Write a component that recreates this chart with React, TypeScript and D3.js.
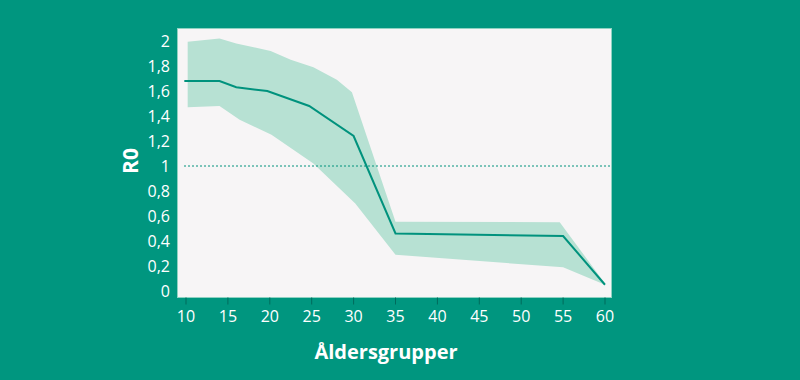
import React from "react";
import * as d3 from "d3";

const ageX = [9.8, 14, 16, 19.7, 24.7, 30, 35, 55, 60];
const r0Mid = [1.68, 1.68, 1.63, 1.6, 1.48, 1.24, 0.46, 0.44, 0.05];

const upperX = [10.2, 14, 16, 20.1, 22.5, 25.2, 28, 29.8, 35, 54.6, 60];
const upperY = [1.995, 2.02, 1.98, 1.92, 1.85, 1.79, 1.69, 1.59, 0.555, 0.55, 0.06];

const lowerX = [10.2, 14, 16.4, 20.2, 25.2, 30.2, 35, 55, 60];
const lowerY = [1.47, 1.48, 1.37, 1.25, 1.02, 0.7, 0.29, 0.19, 0.05];

const xTicks = [10, 15, 20, 25, 30, 35, 40, 45, 50, 55, 60];
const yTicks = [0, 0.2, 0.4, 0.6, 0.8, 1, 1.2, 1.4, 1.6, 1.8, 2];

const W = 800;
const H = 380;
const BG = "#00967f";
const PLOT_BG = "#f7f5f6";
const BAND = "#b7e1d3";
const LINE = "#00927d";
const TICK = "#006b5c";
const FONT = "'Open Sans', 'Noto Sans', sans-serif";

export default function App() {
  const plot = { left: 177.5, right: 611.5, top: 28.5, bottom: 297.5 };
  const x = d3.scaleLinear().domain([10, 60]).range([186, 605]);
  const y = d3.scaleLinear().domain([0, 1]).range([291, 166]);

  const bandPts: [number, number][] = [
    ...upperX.map((v, i) => [x(v), y(upperY[i])] as [number, number]),
    ...lowerX
      .map((v, i) => [x(v), y(lowerY[i])] as [number, number])
      .reverse(),
  ];
  const bandPath = "M" + bandPts.map((p) => p.join(",")).join("L") + "Z";

  const line = d3
    .line<number>()
    .x((_, i) => x(ageX[i]))
    .y((d) => y(d));
  const linePath = line(r0Mid) || "";

  const fmt = (v: number) => String(+v.toFixed(1)).replace(".", ",");

  return (
    <svg
      width={W}
      height={H}
      style={{ position: "absolute", left: 0, top: 0, display: "block" }}
      fontFamily={FONT}
    >
      <rect x={0} y={0} width={W} height={H} fill={BG} />
      <rect
        x={plot.left}
        y={plot.top}
        width={plot.right - plot.left}
        height={plot.bottom - plot.top}
        fill={PLOT_BG}
        stroke="#8fd2c2"
        strokeWidth={1}
      />
      <path d={bandPath} fill={BAND} />
      <line
        x1={184}
        x2={plot.right}
        y1={y(1)}
        y2={y(1)}
        stroke={LINE}
        strokeWidth={1}
        strokeDasharray="2,2"
      />
      <path d={linePath} fill="none" stroke={LINE} strokeWidth={2} strokeLinejoin="miter" />
      {xTicks.map((t) => (
        <g key={t}>
          <line
            x1={x(t)}
            x2={x(t)}
            y1={plot.bottom}
            y2={plot.bottom + 7}
            stroke={TICK}
            strokeWidth={1}
          />
          <text
            x={x(t)}
            y={322}
            fill="#ffffff"
            fontSize={16}
            textAnchor="middle"
          >
            {t}
          </text>
        </g>
      ))}
      {yTicks.map((t) => (
        <text
          key={t}
          x={170}
          y={y(t) + 6}
          fill="#ffffff"
          fontSize={16}
          textAnchor="end"
        >
          {fmt(t)}
        </text>
      ))}
      <text
        transform={`translate(137.5,161) rotate(-90)`}
        fill="#ffffff"
        fontSize={21}
        fontWeight="bold"
        textAnchor="middle"
      >
        R0
      </text>
      <text
        x={386}
        y={359}
        fill="#ffffff"
        fontSize={20}
        fontWeight="bold"
        textAnchor="middle"
      >
        Åldersgrupper
      </text>
    </svg>
  );
}
